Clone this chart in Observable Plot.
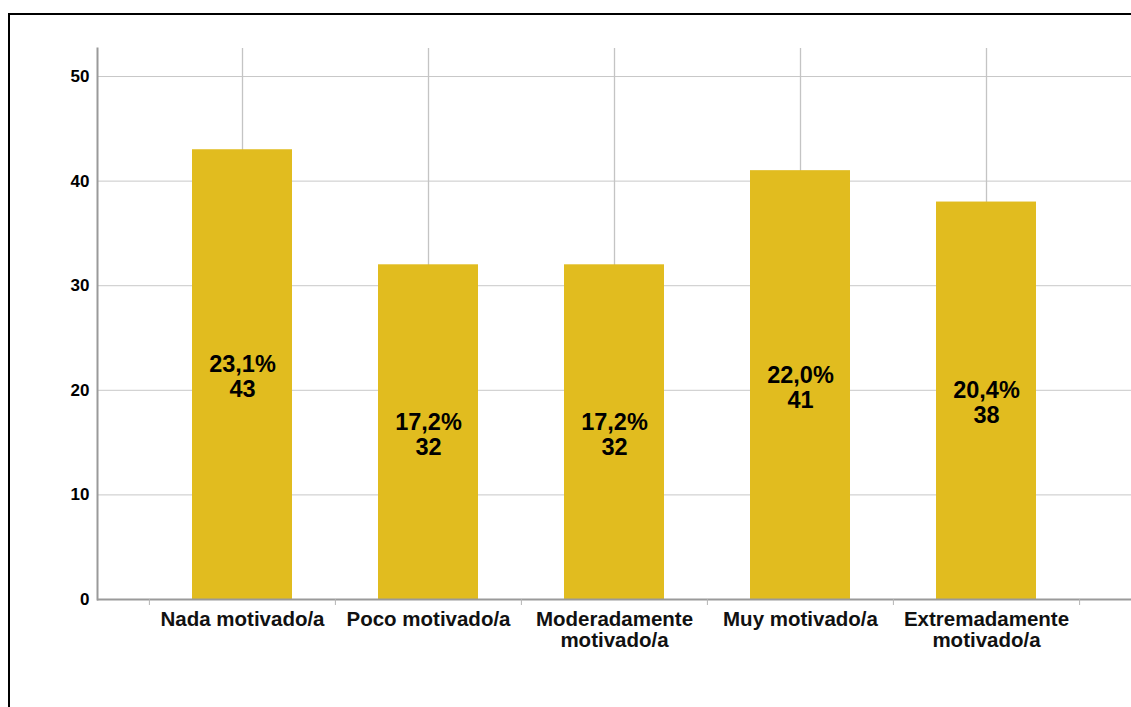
<!DOCTYPE html>
<html>
<head>
<meta charset="utf-8">
<script src="https://cdn.jsdelivr.net/npm/d3@7"></script>
<script src="https://cdn.jsdelivr.net/npm/@observablehq/plot@0.6"></script>
<style>
  html, body { margin: 0; padding: 0; background: #fff; overflow: hidden; }
  #wrap { position: relative; width: 1131px; height: 707px; }
  #border { position: absolute; left: 8px; top: 13px; right: -5px; bottom: -5px;
            border-top: 2px solid #000; border-left: 2px solid #000; pointer-events: none; }
  #chart { position: absolute; left: 0; top: 0; }
</style>
</head>
<body>
<div id="wrap">
  <div id="chart"></div>
  <div id="border"></div>
</div>
<script>
const categories = ["Nada motivado/a", "Poco motivado/a", "Moderadamente motivado/a", "Muy motivado/a", "Extremadamente motivado/a"];
const tickLine1 = ["Nada motivado/a", "Poco motivado/a", "Moderadamente", "Muy motivado/a", "Extremadamente"];
const tickLine2 = ["", "", "motivado/a", "", "motivado/a"];
const counts = [43, 32, 32, 41, 38];
const percents = ["23,1%", "17,2%", "17,2%", "22,0%", "20,4%"];
const yTicks = [0, 10, 20, 30, 40, 50];

const data = categories.map((c, i) => ({cat: c, n: counts[i], pct: percents[i]}));
const line1Of = new Map(categories.map((c, i) => [c, tickLine1[i]]));
const line2Of = new Map(categories.map((c, i) => [c, tickLine2[i]]));

const W = 1131, H = 707;
const xRange = [148, 1079];
const halfStep = (xRange[1] - xRange[0]) / categories.length / 2;
const font = "'Liberation Sans', Arial, sans-serif";
const xLabelStyle = {tickSize: 0, fontSize: 20.5, fontWeight: "bold", label: null, fill: "#111",
                     style: {letterSpacing: "0.8px"}};

const chart = Plot.plot({
  width: W,
  height: H,
  marginLeft: 97,
  marginRight: 0,
  marginTop: 48,
  marginBottom: 108,
  style: {fontFamily: font, background: "transparent"},
  x: {domain: categories, range: xRange, padding: 0},
  y: {domain: [0, 52.68]},
  marks: [
    Plot.gridY(yTicks, {stroke: "#c8c8c8", strokeOpacity: 1, strokeWidth: 1}),
    Plot.ruleX(categories, {x: d => d, stroke: "#c4c4c4", strokeWidth: 1.3}),
    Plot.barY(data, {x: "cat", y: "n", fill: "#e1bc1f", insetLeft: 43, insetRight: 43}),
    Plot.text(data, {x: "cat", y: d => d.n / 2, text: "pct", fontSize: 23.5, fontWeight: "bold",
                     fill: "#000", dy: -10}),
    Plot.text(data, {x: "cat", y: d => d.n / 2, text: d => String(d.n), fontSize: 23.5, fontWeight: "bold",
                     fill: "#000", dy: 15}),
    Plot.frame({anchor: "left", stroke: "#9a9a9a", strokeWidth: 2}),
    Plot.ruleY([0], {stroke: "#9a9a9a", strokeWidth: 2}),
    Plot.axisY({ticks: yTicks, tickSize: 0, tickPadding: 8, fontSize: 17, fontWeight: "bold",
                label: null, fill: "#000"}),
    Plot.axisX({...xLabelStyle, tickPadding: 12, tickFormat: d => line1Of.get(d)}),
    Plot.axisX({...xLabelStyle, ticks: categories.filter(c => line2Of.get(c)), tickPadding: 33,
                tickFormat: d => line2Of.get(d)}),
    Plot.axisX({tickSize: 6, tickFormat: () => "", dx: -halfStep, stroke: "#b4b4b4", label: null}),
    Plot.axisX({ticks: [categories[categories.length - 1]], tickSize: 6, tickFormat: () => "",
                dx: halfStep, stroke: "#b4b4b4", label: null})
  ]
});
document.getElementById("chart").appendChild(chart);
</script>
</body>
</html>
